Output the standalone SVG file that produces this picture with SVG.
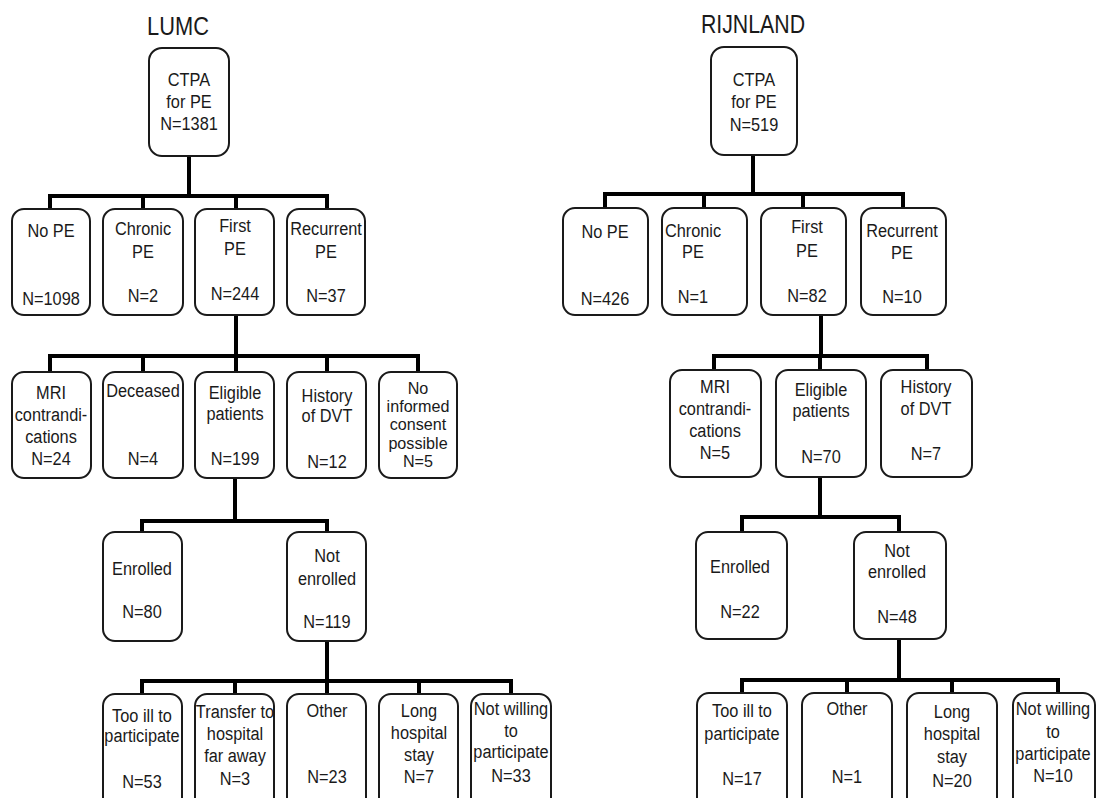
<svg xmlns="http://www.w3.org/2000/svg" width="1096" height="798" viewBox="0 0 1096 798">
<style>
.bg{fill:#fff}
.box{fill:#fff;stroke:#1a1a1a;stroke-width:2}
.t{font-family:"Liberation Sans",Arial,sans-serif;font-size:19px;fill:#1a1a1a;text-anchor:middle}
.s{font-size:17px}
.title{font-family:"Liberation Sans",Arial,sans-serif;font-size:26px;fill:#1a1a1a;text-anchor:middle}
.c{stroke:#000;stroke-width:4;fill:none;stroke-linecap:square}
</style>
<rect class="bg" x="0" y="0" width="1096" height="798"/>
<text class="title" transform="translate(178,35) scale(.84,1)">LUMC</text>
<text class="title" transform="translate(753,33) scale(.82,1)">RIJNLAND</text>
<g id="connectors">
<path class="c" d="M189,156V196M50,209V196H327V209M143,196V209M236,196V209"/>
<path class="c" d="M236,315V356M50,372V356H418V372M143,356V372M236,356V372M327,356V372"/>
<path class="c" d="M235,478V521M142,532V521H327V532"/>
<path class="c" d="M327,641V681M142,694V681H511V694M235,681V694M327,681V694M419,681V694"/>
<path class="c" d="M753,155V194M605,208V194H903V208M704,194V208M803,194V208"/>
<path class="c" d="M821,315V356M714,370V356H927V370M820,356V370"/>
<path class="c" d="M820,477V517M742,532V517H899V532"/>
<path class="c" d="M899,639V680M742,693V680H1058V693M847,680V693M952,680V693"/>
</g>
<g id="l-ctpa"><rect class="box" x="149" y="48" width="80" height="108" rx="13"/><text class="t" transform="translate(189,86) scale(.86,1)">CTPA</text><text class="t" transform="translate(189,108) scale(.86,1)">for PE</text><text class="t" transform="translate(189,130) scale(.86,1)">N=1381</text></g>
<g id="l-nope"><rect class="box" x="12" y="209" width="78" height="106" rx="12"/><text class="t" transform="translate(51,237) scale(.86,1)">No PE</text><text class="t" transform="translate(51,305) scale(.86,1)">N=1098</text></g>
<g id="l-chronic"><rect class="box" x="103" y="209" width="80" height="106" rx="12"/><text class="t" transform="translate(143,235) scale(.86,1)">Chronic</text><text class="t" transform="translate(143,258) scale(.86,1)">PE</text><text class="t" transform="translate(143,302) scale(.86,1)">N=2</text></g>
<g id="l-first"><rect class="box" x="195" y="209" width="79" height="106" rx="12"/><text class="t" transform="translate(235,232) scale(.86,1)">First</text><text class="t" transform="translate(235,255) scale(.86,1)">PE</text><text class="t" transform="translate(235,300) scale(.86,1)">N=244</text></g>
<g id="l-recurrent"><rect class="box" x="287" y="209" width="78" height="106" rx="12"/><text class="t" transform="translate(326,235) scale(.86,1)">Recurrent</text><text class="t" transform="translate(326,258) scale(.86,1)">PE</text><text class="t" transform="translate(326,302) scale(.86,1)">N=37</text></g>
<g id="l-mri"><rect class="box" x="12" y="372" width="79" height="106" rx="12"/><text class="t" transform="translate(51,399) scale(.86,1)">MRI</text><text class="t" transform="translate(51,421) scale(.86,1)">contrandi-</text><text class="t" transform="translate(51,443) scale(.86,1)">cations</text><text class="t" transform="translate(51,465) scale(.86,1)">N=24</text></g>
<g id="l-deceased"><rect class="box" x="103" y="372" width="80" height="106" rx="12"/><text class="t" transform="translate(143,397) scale(.86,1)">Deceased</text><text class="t" transform="translate(143,465) scale(.86,1)">N=4</text></g>
<g id="l-eligible"><rect class="box" x="195" y="372" width="79" height="106" rx="12"/><text class="t" transform="translate(235,399) scale(.86,1)">Eligible</text><text class="t" transform="translate(235,420) scale(.86,1)">patients</text><text class="t" transform="translate(235,465) scale(.86,1)">N=199</text></g>
<g id="l-dvt"><rect class="box" x="287" y="372" width="79" height="106" rx="12"/><text class="t" transform="translate(327,402) scale(.86,1)">History</text><text class="t" transform="translate(327,422) scale(.86,1)">of DVT</text><text class="t" transform="translate(327,468) scale(.86,1)">N=12</text></g>
<g id="l-consent"><rect class="box" x="379" y="372" width="78" height="106" rx="12"/><text class="t s" transform="translate(418,394) scale(.95,1)">No</text><text class="t s" transform="translate(418,412) scale(.95,1)">informed</text><text class="t s" transform="translate(418,430) scale(.95,1)">consent</text><text class="t s" transform="translate(418,449) scale(.95,1)">possible</text><text class="t s" transform="translate(418,467) scale(.95,1)">N=5</text></g>
<g id="l-enrolled"><rect class="box" x="103" y="532" width="79" height="109" rx="12"/><text class="t" transform="translate(142,575) scale(.86,1)">Enrolled</text><text class="t" transform="translate(142,618) scale(.86,1)">N=80</text></g>
<g id="l-notenrolled"><rect class="box" x="287" y="532" width="79" height="109" rx="12"/><text class="t" transform="translate(327,562) scale(.86,1)">Not</text><text class="t" transform="translate(327,585) scale(.86,1)">enrolled</text><text class="t" transform="translate(327,628) scale(.86,1)">N=119</text></g>
<g id="l-ill"><rect class="box" x="103" y="694" width="79" height="120" rx="12"/><text class="t" transform="translate(142,722) scale(.86,1)">Too ill to</text><text class="t" transform="translate(142,742) scale(.86,1)">participate</text><text class="t" transform="translate(142,788) scale(.86,1)">N=53</text></g>
<g id="l-transfer"><rect class="box" x="195" y="694" width="79" height="120" rx="12"/><text class="t" transform="translate(235,718) scale(.86,1)">Transfer to</text><text class="t" transform="translate(235,740) scale(.86,1)">hospital</text><text class="t" transform="translate(235,762) scale(.86,1)">far away</text><text class="t" transform="translate(235,785) scale(.86,1)">N=3</text></g>
<g id="l-other"><rect class="box" x="287" y="694" width="79" height="120" rx="12"/><text class="t" transform="translate(327,717) scale(.86,1)">Other</text><text class="t" transform="translate(327,783) scale(.86,1)">N=23</text></g>
<g id="l-long"><rect class="box" x="379" y="694" width="79" height="120" rx="12"/><text class="t" transform="translate(419,717) scale(.86,1)">Long</text><text class="t" transform="translate(419,739) scale(.86,1)">hospital</text><text class="t" transform="translate(419,761) scale(.86,1)">stay</text><text class="t" transform="translate(419,783) scale(.86,1)">N=7</text></g>
<g id="l-notwilling"><rect class="box" x="471" y="694" width="80" height="120" rx="12"/><text class="t" transform="translate(511,715) scale(.86,1)">Not willing</text><text class="t" transform="translate(511,737) scale(.86,1)">to</text><text class="t" transform="translate(511,758) scale(.86,1)">participate</text><text class="t" transform="translate(511,782) scale(.86,1)">N=33</text></g>
<g id="r-ctpa"><rect class="box" x="711" y="47" width="86" height="108" rx="13"/><text class="t" transform="translate(754,86) scale(.86,1)">CTPA</text><text class="t" transform="translate(754,108) scale(.86,1)">for PE</text><text class="t" transform="translate(754,131) scale(.86,1)">N=519</text></g>
<g id="r-nope"><rect class="box" x="563" y="208" width="85" height="107" rx="12"/><text class="t" transform="translate(605,238) scale(.86,1)">No PE</text><text class="t" transform="translate(605,305) scale(.86,1)">N=426</text></g>
<g id="r-chronic"><rect class="box" x="662" y="208" width="85" height="107" rx="12"/><text class="t" transform="translate(693,237) scale(.86,1)">Chronic</text><text class="t" transform="translate(693,258) scale(.86,1)">PE</text><text class="t" transform="translate(693,303) scale(.86,1)">N=1</text></g>
<g id="r-first"><rect class="box" x="761" y="208" width="85" height="107" rx="12"/><text class="t" transform="translate(807,233) scale(.86,1)">First</text><text class="t" transform="translate(807,257) scale(.86,1)">PE</text><text class="t" transform="translate(807,302) scale(.86,1)">N=82</text></g>
<g id="r-recurrent"><rect class="box" x="861" y="208" width="85" height="107" rx="12"/><text class="t" transform="translate(902,237) scale(.86,1)">Recurrent</text><text class="t" transform="translate(902,259) scale(.86,1)">PE</text><text class="t" transform="translate(902,303) scale(.86,1)">N=10</text></g>
<g id="r-mri"><rect class="box" x="670" y="370" width="91" height="107" rx="12"/><text class="t" transform="translate(715,393) scale(.86,1)">MRI</text><text class="t" transform="translate(715,415) scale(.86,1)">contrandi-</text><text class="t" transform="translate(715,437) scale(.86,1)">cations</text><text class="t" transform="translate(715,459) scale(.86,1)">N=5</text></g>
<g id="r-eligible"><rect class="box" x="776" y="370" width="90" height="107" rx="12"/><text class="t" transform="translate(821,396) scale(.86,1)">Eligible</text><text class="t" transform="translate(821,417) scale(.86,1)">patients</text><text class="t" transform="translate(821,463) scale(.86,1)">N=70</text></g>
<g id="r-dvt"><rect class="box" x="881" y="370" width="91" height="107" rx="12"/><text class="t" transform="translate(926,393) scale(.86,1)">History</text><text class="t" transform="translate(926,415) scale(.86,1)">of DVT</text><text class="t" transform="translate(926,460) scale(.86,1)">N=7</text></g>
<g id="r-enrolled"><rect class="box" x="696" y="532" width="91" height="107" rx="12"/><text class="t" transform="translate(740,573) scale(.86,1)">Enrolled</text><text class="t" transform="translate(740,618) scale(.86,1)">N=22</text></g>
<g id="r-notenrolled"><rect class="box" x="854" y="532" width="92" height="107" rx="12"/><text class="t" transform="translate(897,557) scale(.86,1)">Not</text><text class="t" transform="translate(897,578) scale(.86,1)">enrolled</text><text class="t" transform="translate(897,623) scale(.86,1)">N=48</text></g>
<g id="r-ill"><rect class="box" x="697" y="693" width="90" height="120" rx="12"/><text class="t" transform="translate(742,717) scale(.86,1)">Too ill to</text><text class="t" transform="translate(742,740) scale(.86,1)">participate</text><text class="t" transform="translate(742,785) scale(.86,1)">N=17</text></g>
<g id="r-other"><rect class="box" x="802" y="693" width="90" height="120" rx="12"/><text class="t" transform="translate(847,715) scale(.86,1)">Other</text><text class="t" transform="translate(847,783) scale(.86,1)">N=1</text></g>
<g id="r-long"><rect class="box" x="907" y="693" width="90" height="120" rx="12"/><text class="t" transform="translate(952,718) scale(.86,1)">Long</text><text class="t" transform="translate(952,740) scale(.86,1)">hospital</text><text class="t" transform="translate(952,763) scale(.86,1)">stay</text><text class="t" transform="translate(952,787) scale(.86,1)">N=20</text></g>
<g id="r-notwilling"><rect class="box" x="1013" y="693" width="82" height="120" rx="12"/><text class="t" transform="translate(1053,715) scale(.86,1)">Not willing</text><text class="t" transform="translate(1053,738) scale(.86,1)">to</text><text class="t" transform="translate(1053,760) scale(.86,1)">participate</text><text class="t" transform="translate(1053,782) scale(.86,1)">N=10</text></g>
</svg>
